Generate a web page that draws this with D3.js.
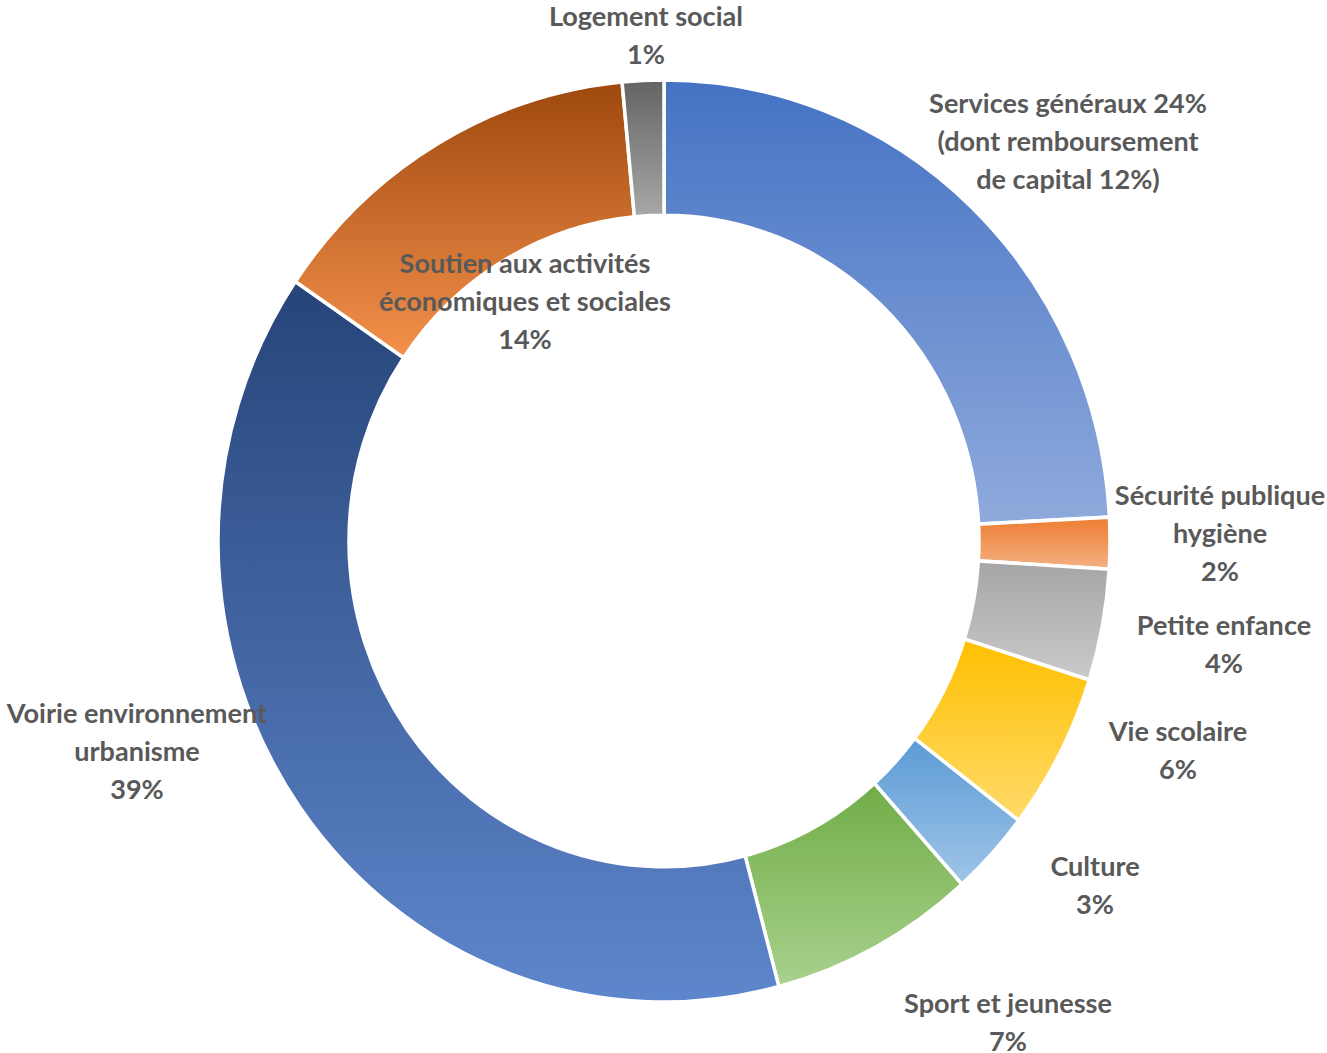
<!DOCTYPE html>
<html>
<head>
<meta charset="utf-8">
<script src="https://cdn.jsdelivr.net/npm/d3@7"></script>
<style>
  html, body { margin: 0; padding: 0; background: #fff; }
  svg { display: block; }
  .label { font-family: Lato, "Open Sans", sans-serif; font-weight: bold; fill: #595959; }
</style>
</head>
<body>
<svg id="chart" width="1327" height="1053"></svg>
<script>
// slices, clockwise from 12 o'clock
var categories = ["Services généraux", "Sécurité publique hygiène", "Petite enfance", "Vie scolaire",
                  "Culture", "Sport et jeunesse", "Voirie environnement urbanisme",
                  "Soutien aux activités économiques et sociales", "Logement social"];
var shares = [24.2, 1.8, 3.9, 5.5, 3.0, 7.5, 38.7, 14.0, 1.5];
var labelLines = [
    ["Services généraux 24%", "(dont remboursement", "de capital 12%)"],
    ["Sécurité publique", "hygiène", "2%"],
    ["Petite enfance", "4%"],
    ["Vie scolaire", "6%"],
    ["Culture", "3%"],
    ["Sport et jeunesse", "7%"],
    ["Voirie environnement", "urbanisme", "39%"],
    ["Soutien aux activités", "économiques et sociales", "14%"],
    ["Logement social", "1%"]
];
// gradient stops per slice (top, bottom)
var colorTop = ["#4472C4", "#ED7D31", "#A5A5A5", "#FFC000", "#5B9BD5", "#70AD47", "#264478", "#9E480E", "#636363"];
var colorBottom = ["#8FAADC", "#F4B183", "#CACACA", "#FFDA6A", "#A0C5E8", "#A9D18E", "#5E86CC", "#F4914B", "#A8A8A8"];

// hand placed label centres (first line), as in the original
var labelX = [1068, 1220, 1224, 1178, 1095, 1008, 137, 525, 646];
var labelY = [103, 495, 625, 731, 866, 1003, 713, 263, 16];

var svg = d3.select("#chart"),
    CX = 664, CY = 541,
    R_OUT = 446, R_IN = 315,
    STRETCH = 1.034,
    LINE_H = 38.3;

var data = categories.map(function (c, i) {
    return {name: c, value: shares[i], i: i};
});

var defs = svg.append("defs");
data.forEach(function (d) {
    var g = defs.append("linearGradient")
        .attr("id", "grad" + d.i)
        .attr("x1", 0).attr("y1", 0)
        .attr("x2", 0).attr("y2", 1);
    g.append("stop").attr("offset", "0%").attr("stop-color", colorTop[d.i]);
    g.append("stop").attr("offset", "100%").attr("stop-color", colorBottom[d.i]);
});

var pie = d3.pie()
    .value(function (d) { return d.value; })
    .sort(null);

var arc = d3.arc()
    .innerRadius(R_IN)
    .outerRadius(R_OUT);

var g = svg.append("g")
    .attr("transform", "translate(" + CX + "," + CY + ") scale(1," + STRETCH + ")");

g.selectAll("path")
    .data(pie(data))
    .enter()
    .append("path")
    .attr("d", arc)
    .attr("fill", function (d) { return "url(#grad" + d.data.i + ")"; })
    .attr("stroke", "#fff")
    .attr("stroke-width", 3.5)
    .attr("stroke-linejoin", "miter");

// labels
var labels = svg.append("g");
var text = labels.selectAll("text")
    .data(data)
    .enter()
    .append("text")
    .attr("class", "label")
    .attr("text-anchor", "middle")
    .style("font-size", "25px");

text.each(function (d) {
    var t = d3.select(this);
    labelLines[d.i].forEach(function (line, k) {
        t.append("tspan")
            .attr("x", labelX[d.i])
            .attr("y", labelY[d.i] + k * LINE_H)
            .attr("dy", "0.36em")
            .text(line);
    });
});

// fit the font so that the widest reference line keeps its width
var probe = text.filter(function (d) { return d.i === 0; }).select("tspan").node();
var w = probe.getComputedTextLength();
var size = 25 * 278 / w;
text.style("font-size", size + "px");
</script>
</body>
</html>
